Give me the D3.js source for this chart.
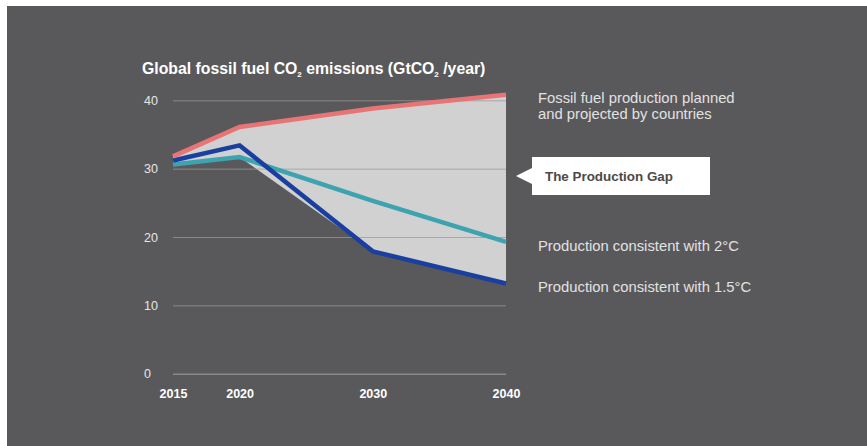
<!DOCTYPE html>
<html>
<head>
<meta charset="utf-8">
<script src="https://cdn.jsdelivr.net/npm/d3@7"></script>
<style>
  html, body { margin: 0; padding: 0; background: #ffffff; }
  svg { display: block; }
</style>
</head>
<body>
<svg id="chart" width="867" height="446"></svg>
<script>
// Emissions pathways, GtCO2 per year
const years = [2015, 2020, 2030, 2040];
const plannedProduction = [31.8, 36.1, 38.8, 40.8];
const production2C = [30.6, 31.7, 25.3, 19.3];
const production15C = [31.2, 33.4, 17.9, 13.2];
const yTicks = [0, 10, 20, 30, 40];
const xTickLabels = ["2015", "2020", "2030", "2040"];

const svg = d3.select("#chart");
const W = 867, H = 446;
const font = "Liberation Sans, Arial, sans-serif";

// dark panel
svg.append("rect").attr("x", 7).attr("y", 6).attr("width", W - 7).attr("height", H - 6)
  .attr("fill", "#59595b");

const x = d3.scaleLinear().domain([2015, 2040]).range([173, 506]);
const y = d3.scaleLinear().domain([0, 40]).range([373.7, 100.3]);

// title
const title = svg.append("text").attr("x", 142).attr("y", 73.5)
  .attr("fill", "#ffffff").attr("font-family", font)
  .attr("font-size", 15.8).attr("font-weight", "bold");
title.append("tspan").text("Global fossil fuel CO");
title.append("tspan").attr("font-size", 8).attr("dy", 3).text("2");
title.append("tspan").attr("dy", -3).text(" emissions (GtCO");
title.append("tspan").attr("font-size", 8).attr("dy", 3).text("2");
title.append("tspan").attr("dy", -3).text(" /year)");

// gap area between planned production and the lowest pathway
const gapData = years.map((yr, i) => ({
  year: yr,
  top: plannedProduction[i],
  bottom: Math.min(production2C[i], production15C[i])
}));
svg.append("path").datum(gapData)
  .attr("fill", "#d1d1d1")
  .attr("d", d3.area().x(d => x(d.year)).y0(d => y(d.bottom)).y1(d => y(d.top)));

// gridlines
const yAxis = d3.axisLeft(y).tickValues(yTicks).tickSize(-(x(2040) - x(2015))).tickPadding(15);
const gy = svg.append("g").attr("transform", `translate(${x(2015)},0)`).call(yAxis);
gy.select(".domain").remove();
gy.selectAll(".tick line")
  .attr("stroke", (d) => d === 0 ? "#8a8a8c" : "#9a9a9a")
  .attr("stroke-width", d => d === 0 ? 1.6 : 1)
  .attr("stroke-opacity", d => d === 0 ? 1 : 0.75);
gy.selectAll(".tick text")
  .attr("fill", "#e6e6e6").attr("font-size", 12.5)
  .attr("font-family", font)
  .attr("text-anchor", "start").attr("x", -29);

// year axis
const xAxis = d3.axisBottom(x).tickValues(years).tickFormat((d, i) => xTickLabels[i]).tickSize(0).tickPadding(15);
const gx = svg.append("g").attr("transform", `translate(0,${y(0)})`).call(xAxis);
gx.select(".domain").remove();
gx.selectAll(".tick text")
  .attr("fill", "#ffffff").attr("font-size", 12.5).attr("font-weight", "bold")
  .attr("font-family", font);

// pathway lines
const line = d3.line().x((d, i) => x(years[i])).y(d => y(d));
const series = [
  { values: production2C, color: "#3ea3b0" },
  { values: production15C, color: "#1a3f9e" },
  { values: plannedProduction, color: "#e87576" }
];
series.forEach(s => {
  svg.append("path").datum(s.values)
    .attr("fill", "none").attr("stroke", s.color).attr("stroke-width", 4.5)
    .attr("stroke-linejoin", "miter")
    .attr("d", line);
});

// right-hand labels
const lab = (txt, yy) => svg.append("text").attr("x", 538).attr("y", yy)
  .attr("fill", "#e2e2e2").attr("font-size", 14.8).attr("font-family", font).text(txt);
lab("Fossil fuel production planned", 103);
lab("and projected by countries", 118.5);
lab("Production consistent with 2°C", 250.5);
lab("Production consistent with 1.5°C", 291.5);

// callout
const cy = 176;
svg.append("path")
  .attr("d", `M516,${cy} L532,${cy - 8} L532,157 L710,157 L710,195 L532,195 L532,${cy + 8} Z`)
  .attr("fill", "#ffffff");
svg.append("text").attr("x", 545).attr("y", cy + 5)
  .attr("fill", "#4a4a4a").attr("font-size", 13.4).attr("font-weight", "bold")
  .attr("font-family", font).text("The Production Gap");
</script>
</body>
</html>
